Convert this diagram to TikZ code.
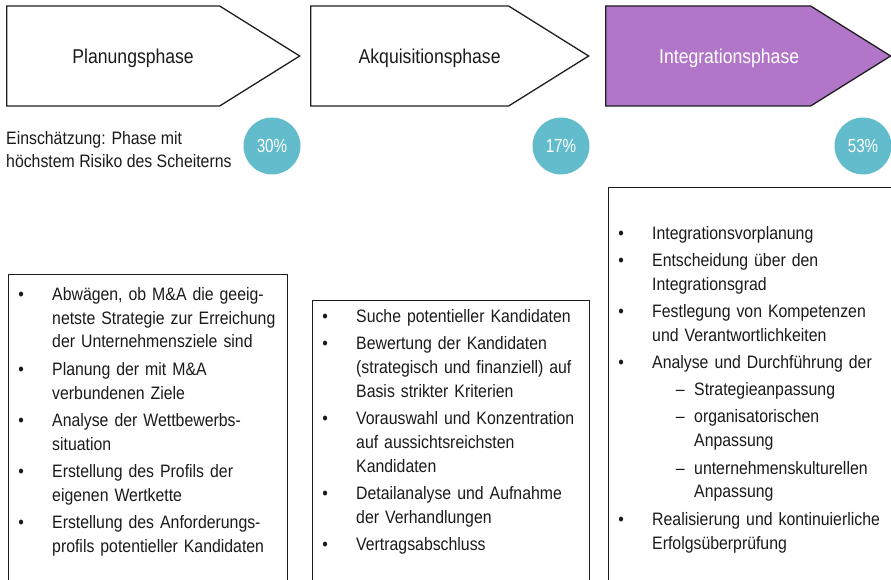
\documentclass[tikz,border=0pt]{standalone}
\usepackage{fontspec}
\setmainfont{Liberation Sans}[FakeStretch=0.88]
\newfontfamily\pctfont{Liberation Sans}[FakeStretch=0.8]
\usepackage{enumitem}
\usetikzlibrary{shapes.symbols, positioning}
\definecolor{phaselila}{RGB}{178,118,201}
\definecolor{risiko}{RGB}{98,188,203}
\definecolor{linie}{RGB}{30,30,30}
\definecolor{schrift}{RGB}{26,26,26}
\setlist[itemize,1]{label=\makebox[0pt]{\textbullet}, leftmargin=44pt,
  labelwidth=0pt, labelsep=31pt, topsep=0pt, partopsep=0pt, parsep=0pt,
  itemsep=3.3pt}
\setlist[itemize,2]{label=\makebox[0pt]{–}, leftmargin=42pt,
  labelwidth=0pt, labelsep=14pt, topsep=3.3pt, partopsep=0pt, parsep=0pt,
  itemsep=3.3pt}
\tikzset{
  phase/.style = {signal, signal to=east, signal pointer angle=64,
    draw=linie, line width=1.3pt, minimum height=100pt, inner sep=0pt,
    anchor=west},
  phase_t/.style = {inner sep=0pt, text=schrift,
    font=\fontsize{20}{24}\selectfont},
  pct_n/.style = {circle, fill=risiko, text=white, minimum size=57pt,
    inner sep=0pt, font=\pctfont\fontsize{19}{22}\selectfont},
  listbox/.style = {draw=linie, line width=1.3pt, anchor=north west,
    minimum height=420pt, inner sep=0pt},
  listtext/.style = {anchor=north west, inner sep=0pt, text width=#1,
    text=schrift, font=\fontsize{18}{23.9}\selectfont}}

\begin{document}
\begin{tikzpicture}[x=1pt, y=-1pt]
\clip (0,0) rectangle (891,580);

% phases
\node [phase, minimum width=293pt] (plan) at (6,56) {};
\node [phase, minimum width=278pt] (akqu) at (310,56) {};
\node [phase, minimum width=285pt, fill=phaselila] (integ) at (605,56) {};
\node [phase_t, xshift=20pt, yshift=-2pt] (plan_t) at (plan.center) {Planungsphase};
\node [phase_t, xshift=20pt, yshift=-2pt] (akqu_t) at (akqu.center) {Akquisitionsphase};
\node [phase_t, xshift=21pt, yshift=-2pt, text=white] (integ_t) at (integ.center) {Integrationsphase};

% risk
\node [inner sep=0pt, anchor=north west, align=left, text=schrift,
  font=\fontsize{18}{22.5}\selectfont] (note) at (6,131.4)
  {Einschätzung: Phase mit\\höchstem Risiko des Scheiterns};
\node [pct_n] (plan_p) at (272,146) {30\%};
\node [pct_n] (akqu_p) at (561,146) {17\%};
\node [pct_n] (integ_p) at (863,146) {53\%};

% task lists
\node [listbox, minimum width=279pt] (plan_b) at (8,274) {};
\node [listbox, minimum width=277pt] (akqu_b) at (312,300) {};
\node [listbox, minimum width=300pt] (integ_b) at (608,187) {};

\node [listtext=276pt, yshift=-2pt] (plan_l) at (plan_b.north west) {
\begin{itemize}
  \item Abwägen, ob M\&A die geeig-\newline netste Strategie zur Erreichung\newline der Unternehmensziele sind
  \item Planung der mit M\&A\newline verbundenen Ziele
  \item Analyse der Wettbewerbs-\newline situation
  \item Erstellung des Profils der\newline eigenen Wertkette
  \item Erstellung des Anforderungs-\newline profils potentieller Kandidaten
\end{itemize}};
\node [listtext=274pt, yshift=2pt] (akqu_l) at (akqu_b.north west) {
\begin{itemize}
  \item Suche potentieller Kandidaten
  \item Bewertung der Kandidaten\newline (strategisch und finanziell) auf\newline Basis strikter Kriterien
  \item Vorauswahl und Konzentration\newline auf aussichtsreichsten\newline Kandidaten
  \item Detailanalyse und Aufnahme\newline der Verhandlungen
  \item Vertragsabschluss
\end{itemize}};
\node [listtext=300pt, yshift=-28pt] (integ_l) at (integ_b.north west) {
\begin{itemize}
  \item Integrationsvorplanung
  \item Entscheidung über den\newline Integrationsgrad
  \item Festlegung von Kompetenzen\newline und Verantwortlichkeiten
  \item Analyse und Durchführung der
  \begin{itemize}
    \item Strategieanpassung
    \item organisatorischen\newline Anpassung
    \item unternehmenskulturellen\newline Anpassung
  \end{itemize}
  \item Realisierung und kontinuierliche\newline Erfolgsüberprüfung
\end{itemize}};
\end{tikzpicture}
\end{document}
